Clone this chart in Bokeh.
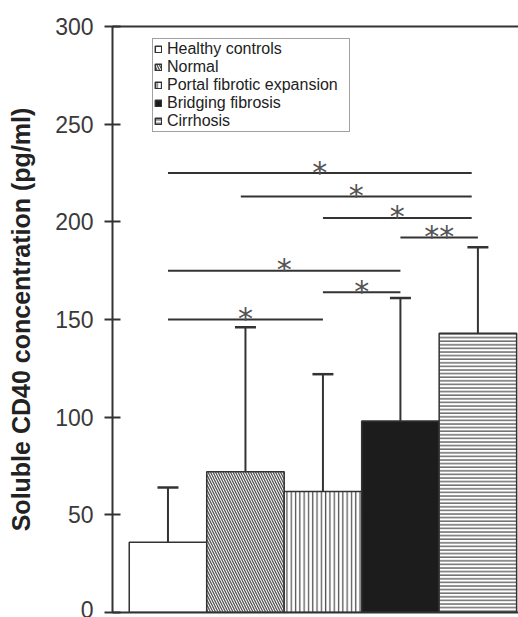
from bokeh.plotting import figure
from bokeh.models import (Range1d, FixedTicker, LinearAxis, Whisker, TeeHead,
                          ColumnDataSource)
from bokeh.core.properties import value
from bokeh.embed import file_html
from bokeh.resources import INLINE

# ---- data ----
categories = ["Healthy controls", "Normal", "Portal fibrotic expansion",
              "Bridging fibrosis", "Cirrhosis"]
means = [36, 72, 62, 98, 143]
upper_err = [64, 146, 122, 161, 187]
y_ticks = [0, 50, 100, 150, 200, 250, 300]

# significance brackets (from group position, to group position, height, label)
sig_x0 = [1, 1.94, 3, 4, 1, 3, 1]
sig_x1 = [4.92, 4.92, 4.92, 5, 4, 4, 3]
sig_y = [225, 213, 202, 192, 175, 164, 150]
sig_labels = ["*", "*", "*", "**", "*", "*", "*"]

# ---- styles ----
fills = ["white", "white", "white", "#1c1c1c", "white"]
hatches = [None, "\\", "|", None, "-"]
hatch_scales = [5, 5, 4.3, 5, 3.6]
dark = "#333333"
font = "Liberation Sans"

p = figure(width=518, height=617, output_backend="svg", toolbar_location=None,
           x_range=Range1d(0.284, 5.524), y_range=Range1d(0, 300),
           min_border_left=112, min_border_right=0, min_border_top=26,
           min_border_bottom=5, x_axis_location="below")
p.outline_line_color = None
p.xgrid.grid_line_color = None
p.ygrid.grid_line_color = None
p.background_fill_color = "white"

xs = list(range(1, len(categories) + 1))
for i, cat in enumerate(categories):
    kw = dict(x=[xs[i]], top=[means[i]], bottom=0, width=1.0,
              fill_color=fills[i], line_color=dark, line_width=1.5,
              legend_label=cat)
    if hatches[i]:
        kw.update(hatch_pattern=hatches[i], hatch_color="#555555",
                  hatch_scale=hatch_scales[i], hatch_weight=1.3)
    p.vbar(**kw)

src = ColumnDataSource(dict(x=xs, lower=means, upper=upper_err))
wh = Whisker(base="x", lower="lower", upper="upper", source=src,
             line_color=dark, line_width=2, lower_head=None,
             upper_head=TeeHead(size=21, line_color=dark, line_width=2.5))
p.add_layout(wh)

sig_mid = [(a + b) / 2 for a, b in zip(sig_x0, sig_x1)]
p.segment(x0=sig_x0, y0=sig_y, x1=sig_x1, y1=sig_y, line_color=dark, line_width=2)
p.text(x=sig_mid, y=sig_y, text=sig_labels, text_font=value("DejaVu Sans"),
       text_font_size="30px", text_align="center", text_baseline="alphabetic",
       y_offset=-1, text_color="#555555")

# axes
ya = p.yaxis[0]
ya.ticker = FixedTicker(ticks=y_ticks)
ya.minor_tick_line_color = None
ya.major_tick_in = 8
ya.major_tick_out = 8
ya.major_tick_line_width = 2
ya.major_tick_line_color = dark
ya.axis_line_width = 2
ya.axis_line_color = dark
ya.major_label_standoff = 11
ya.major_label_text_font = font
ya.major_label_text_font_size = "23px"
ya.major_label_text_color = "#3a3a3a"
ya.axis_label = "Soluble CD40 concentration (pg/ml)"
ya.axis_label_text_font = font
ya.axis_label_text_font_style = "bold"
ya.axis_label_text_font_size = "25px"
ya.axis_label_text_color = "#222222"
ya.axis_label_standoff = 17

xa = p.xaxis[0]
xa.ticker = FixedTicker(ticks=[])
xa.minor_tick_line_color = None
xa.major_tick_line_color = None
xa.major_label_text_font_size = "0px"
xa.axis_line_width = 2
xa.axis_line_color = dark

top = LinearAxis(ticker=FixedTicker(ticks=[]), axis_line_width=2,
                 axis_line_color=dark, major_tick_line_color=None,
                 minor_tick_line_color=None, major_label_text_font_size="0px")
p.add_layout(top, "above")

lg = p.legend[0]
lg.location = (40, 480)
lg.label_text_font = font
lg.label_text_font_size = "16px"
lg.label_text_color = "#222222"
lg.glyph_width = 8
lg.glyph_height = 8
lg.label_standoff = 5
lg.label_height = 16
lg.label_width = 181
lg.spacing = -3
lg.padding = 1
lg.margin = 0
lg.border_line_color = "#444444"
lg.border_line_width = 1.5
lg.background_fill_alpha = 1.0

open("out.html", "w").write(file_html(p, INLINE))
